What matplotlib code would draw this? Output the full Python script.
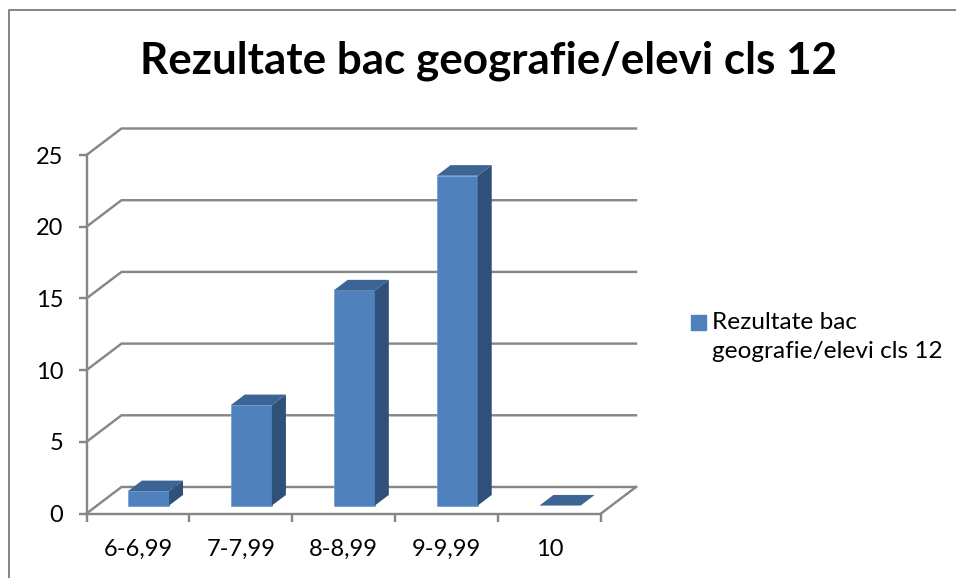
# -*- coding: utf-8 -*-
''' Library '''
import numpy as np
import matplotlib
matplotlib.use('Agg')
import matplotlib.pyplot as plt
from matplotlib.lines import Line2D
from matplotlib.patches import Rectangle

''' Data '''
Title = 'Rezultate bac geografie/elevi cls 12'
Series_Name = 'Rezultate bac\ngeografie/elevi cls 12'
Categories = ['6-6,99', '7-7,99', '8-8,99', '9-9,99', '10']
Values = [1, 7, 15, 23, 0]
Y_Ticks = [0, 5, 10, 15, 20, 25]

''' Style '''
Col_Front = '#4F81BD'
Col_Top = '#3C6494'
Col_Side = '#2F5179'
Col_Grid = '#868686'
Px = 72.0 / 100  # one pixel in points

plt.rcParams['font.family'] = ['Lato', 'DejaVu Sans']

W, H = 956, 578
fig = plt.figure(figsize=(W / 100, H / 100), dpi=100)
ax = fig.add_axes([86.5 / W, (H - 513.5) / H, 514.5 / W, 358.5 / H])
ax.set_xlim(0, len(Categories))
ax.set_ylim(0, Y_Ticks[-1])
ax.patch.set_visible(False)

# how far the back wall sits from the front plane, in data units
Depth_X = 35 / 102.9
Depth_Y = 26.5 / 14.34
Bar_W = 0.4
Bar_Start = 0.30  # fraction of the depth where bars begin
Bar_Depth = 0.40

# walls
Lw = 2.4 * Px
for v in Y_Ticks:
    ax.plot([0, Depth_X, len(Categories) + Depth_X],
            [v, v + Depth_Y, v + Depth_Y],
            color=Col_Grid, lw=Lw, clip_on=False, zorder=1, solid_joinstyle='miter')
ax.plot([len(Categories), len(Categories) + Depth_X], [0, Depth_Y],
        color=Col_Grid, lw=Lw, clip_on=False, zorder=1)

# bars
Centers = np.arange(len(Categories)) + 0.5 + Bar_Start * Depth_X
Base = Bar_Start * Depth_Y
Bars = ax.bar(Centers, Values, width=Bar_W, bottom=Base, color=Col_Front,
              edgecolor='#6F9AD0', linewidth=0.5, clip_on=False, zorder=3)
Dx = Bar_Depth * Depth_X
Dy = Bar_Depth * Depth_Y
for b, c, v in zip(Bars, Centers, Values):
    l, r = c - Bar_W / 2, c + Bar_W / 2
    t = Base + v
    ax.fill([l, r, r + Dx, l + Dx], [t, t, t + Dy, t + Dy], color=Col_Top,
            lw=0, clip_on=False, zorder=3)
    if v > 0:
        ax.fill([r, r + Dx, r + Dx, r], [Base, Base + Dy, t + Dy, t], color=Col_Side,
                lw=0, clip_on=False, zorder=3)
    else:
        b.set_linewidth(0)

# axes
for s in ['top', 'right']:
    ax.spines[s].set_visible(False)
for s in ['left', 'bottom']:
    ax.spines[s].set_color(Col_Grid)
    ax.spines[s].set_linewidth(Lw)
    ax.spines[s].set_zorder(2)
ax.set_yticks(Y_Ticks)
ax.set_xticks(np.arange(len(Categories) + 1))
ax.set_xticklabels([])
ax.set_xticks(np.arange(len(Categories)) + 0.5, Categories, minor=True)
ax.tick_params(axis='both', which='major', color=Col_Grid, width=Lw, length=8 * Px)
ax.tick_params(axis='y', labelsize=17, pad=11)
ax.tick_params(axis='x', which='minor', length=0, labelsize=17, pad=18)

fig.text(488.5 / W, 1 - 60.5 / H, Title, fontsize=31.7, fontweight='bold', ha='center', va='center')

# legend
fig.add_artist(Rectangle((691 / W, 1 - 330 / H), 15 / W, 15 / H, color=Col_Front,
                         transform=fig.transFigure))
fig.text(712 / W, 1 - 337 / H, Series_Name, fontsize=17.6, ha='left', va='center', linespacing=1.45)

# chart frame, only left and top fall inside the crop
fig.add_artist(Line2D([9 / W, 9 / W, 1], [0, 1 - 9.5 / H, 1 - 9.5 / H], color=Col_Grid, lw=2 * Px))

fig.savefig('out.png', dpi=100)
